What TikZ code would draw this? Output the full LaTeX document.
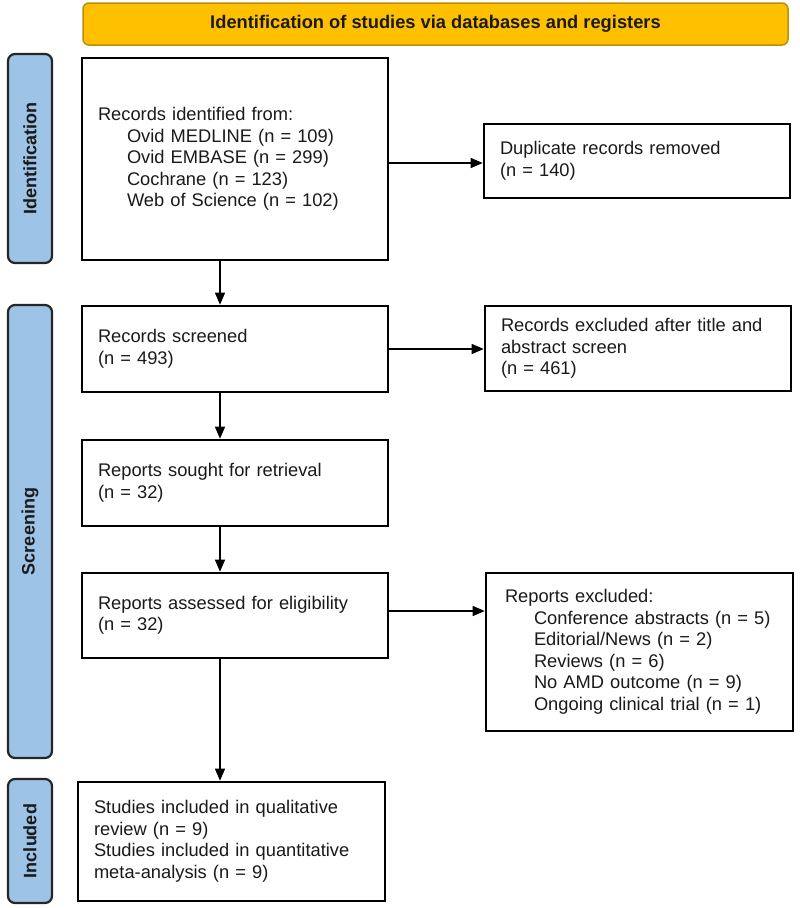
\documentclass[tikz,border=0pt]{standalone}
\usepackage{fontspec}
\setmainfont{Liberation Sans}
\usetikzlibrary{arrows.meta,calc}
\definecolor{goldfill}{HTML}{FFC000}
\definecolor{goldline}{HTML}{B8900A}
\definecolor{sideblue}{HTML}{9DC3E6}
\definecolor{txt}{HTML}{1A1A1A}
\newcommand{\ind}{\hspace*{29pt}}
\begin{document}
\begin{tikzpicture}[x=1pt,y=-1pt,
  flowbox/.style={draw=black, line width=2.6pt, fill=white, align=left, inner sep=0pt,
    text=txt, font=\fontsize{18.3}{21.5}\selectfont},
  sidebar/.style={draw=black!85, line width=2.2pt, fill=sideblue, rounded corners=7pt,
    inner sep=0pt, font=\fontsize{18}{20}\selectfont\bfseries, text=txt},
  arr/.style={draw=black, line width=1.3pt, -{Triangle[length=12pt,width=10pt]}}
]
\useasboundingbox (0,0) rectangle (800,908);
\fill[white] (0,0) rectangle (800,908);

% header
\node[draw=goldline, line width=1.5pt, fill=goldfill, rounded corners=6pt,
  minimum width=705pt, minimum height=42pt, inner sep=0pt,
  font=\fontsize{18.3}{20}\selectfont\bfseries, text=txt] (head) at (435.5,24)
  {Identification of studies via databases and registers};

% side bars
\node[sidebar, minimum width=44pt, minimum height=209pt] (sideI) at (30,158.5) {};
\node[rotate=90, font=\fontsize{18}{20}\selectfont\bfseries, text=txt] (labI) at (sideI.center) {Identification};
\node[sidebar, minimum width=44pt, minimum height=453pt] (sideS) at (30,531.5) {};
\node[rotate=90, font=\fontsize{18}{20}\selectfont\bfseries, text=txt] (labS) at (sideS.center) {Screening};
\node[sidebar, minimum width=44pt, minimum height=124pt] (sideN) at (30,841) {};
\node[rotate=90, font=\fontsize{18}{20}\selectfont\bfseries, text=txt] (labN) at (sideN.center) {Included};

% boxes
\node[flowbox, minimum width=306pt, minimum height=202pt, text width=274pt] (rec) at (235,159)
  {Records identified from:\\
   \ind Ovid MEDLINE (n = 109)\\
   \ind Ovid EMBASE (n = 299)\\
   \ind Cochrane (n = 123)\\
   \ind Web of Science (n = 102)};
\node[flowbox, minimum width=306pt, minimum height=74pt, text width=274pt] (dup) at (637,161)
  {Duplicate records removed\\(n = 140)};
\node[flowbox, minimum width=306pt, minimum height=86pt, text width=274pt] (scr) at (235,349)
  {Records screened\\(n = 493)};
\node[flowbox, minimum width=306pt, minimum height=85pt, text width=274pt] (exa) at (638,348.5)
  {Records excluded after title and\\abstract screen\\(n = 461)};
\node[flowbox, minimum width=306pt, minimum height=86pt, text width=274pt] (sou) at (235,483)
  {Reports sought for retrieval\\(n = 32)};
\node[flowbox, minimum width=306pt, minimum height=85pt, text width=274pt] (ass) at (235,615.5)
  {Reports assessed for eligibility\\(n = 32)};
\node[flowbox, minimum width=307pt, minimum height=158pt, text width=269pt] (exb) at (639.5,652)
  {Reports excluded:\\
   \ind Conference abstracts (n = 5)\\
   \ind Editorial/News (n = 2)\\
   \ind Reviews (n = 6)\\
   \ind No AMD outcome (n = 9)\\
   \ind Ongoing clinical trial (n = 1)};
\node[flowbox, minimum width=307pt, minimum height=119pt, text width=275pt] (inc) at (231.5,841.5)
  {Studies included in qualitative\\review (n = 9)\\Studies included in quantitative\\meta-analysis (n = 9)};

% connectors
\coordinate (ax) at (220,0);
\draw[arr] (rec.south -| ax) -- (scr.north -| ax);
\draw[arr] (scr.south -| ax) -- (sou.north -| ax);
\draw[arr] (sou.south -| ax) -- (ass.north -| ax);
\draw[arr] (ass.south -| ax) -- (inc.north -| ax);
\draw[arr] ([yshift=-2pt]rec.east |- dup.west) -- ([yshift=-2pt]dup.west);
\draw[arr] (scr.east) -- (scr.east -| exa.west);
\draw[arr] ([yshift=4.5pt]ass.east) -- ([yshift=4.5pt]ass.east -| exb.west);
\end{tikzpicture}
\end{document}
